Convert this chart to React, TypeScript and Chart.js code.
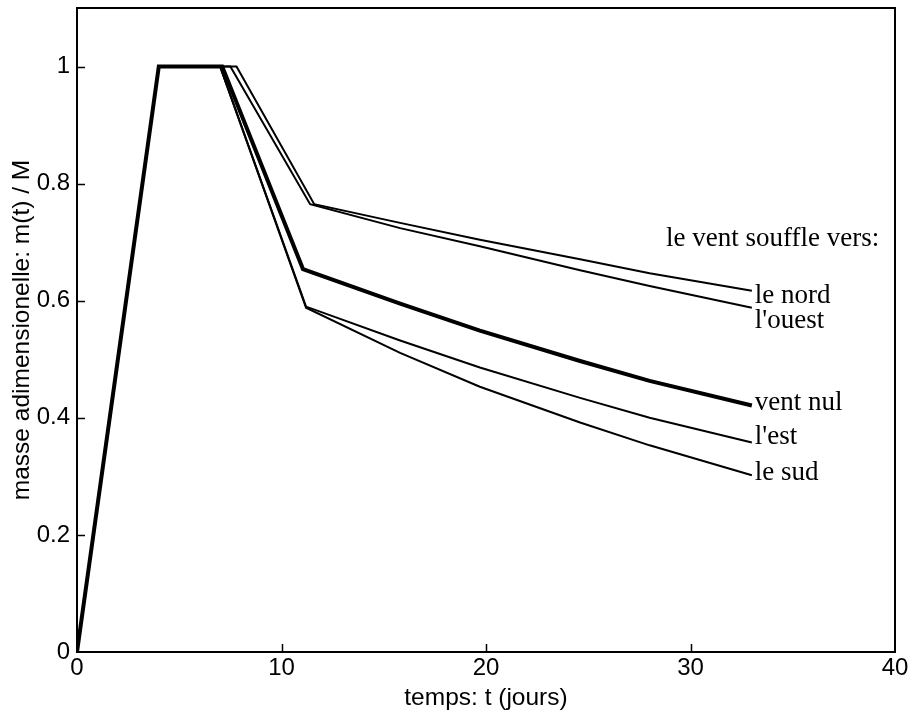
import { useEffect, useRef } from "react";
import { Chart, registerables } from "chart.js";

Chart.register(...registerables);

// ---- data ----
const SERIES_NAMES = ["le nord", "l'ouest", "vent nul", "l'est", "le sud"];
const NORD_T = [0, 4, 7.8, 11.6, 15.8, 19.7, 24.6, 28, 33];
const NORD_M = [0, 1, 1, 0.765, 0.733, 0.704, 0.671, 0.647, 0.617];
const OUEST_T = [0, 4, 7.5, 11.4, 15.8, 19.7, 24.6, 28, 33];
const OUEST_M = [0, 1, 1, 0.765, 0.724, 0.693, 0.652, 0.625, 0.588];
const NUL_T = [0, 4, 7.1, 11.05, 15.8, 19.7, 24.6, 28, 33];
const NUL_M = [0, 1, 1, 0.654, 0.595, 0.549, 0.497, 0.463, 0.421];
const EST_T = [0, 4, 7.0, 11.2, 15.8, 19.7, 24.6, 28, 33];
const EST_M = [0, 1, 1, 0.59, 0.532, 0.486, 0.434, 0.4, 0.358];
const SUD_T = [0, 4, 7.0, 11.2, 15.8, 19.7, 24.6, 28, 33];
const SUD_M = [0, 1, 1, 0.588, 0.511, 0.453, 0.392, 0.353, 0.302];
const X_TICKS = [0, 10, 20, 30, 40];
const Y_TICKS = [0, 0.2, 0.4, 0.6, 0.8, 1];
const HEADER = "le vent souffle vers:";

const SANS = "'Liberation Sans', Arial, sans-serif";
const SERIF = "'Liberation Serif', 'Times New Roman', serif";

const zip = (t: number[], m: number[]) => t.map((x, i) => ({ x, y: m[i] }));

export default function App() {
  const ref = useRef<HTMLCanvasElement | null>(null);

  useEffect(() => {
    document.body.style.margin = "0";
    const canvas = ref.current;
    if (!canvas) return;

    const labelDy = [12, 20, 4, 2, 5];

    const decor = {
      id: "decor",
      afterDraw(chart: any) {
        const { ctx, chartArea: a, scales } = chart;
        const xs = scales.x;
        const ys = scales.y;
        ctx.save();
        ctx.strokeStyle = "#000";
        ctx.lineWidth = 2;
        ctx.strokeRect(a.left, a.top, a.right - a.left, a.bottom - a.top);
        ctx.lineWidth = 1.5;
        ctx.beginPath();
        X_TICKS.slice(1, -1).forEach((v) => {
          const px = Math.round(xs.getPixelForValue(v)) + 0.5;
          ctx.moveTo(px, a.bottom);
          ctx.lineTo(px, a.bottom - 8);
        });
        Y_TICKS.slice(1).forEach((v) => {
          const py = Math.round(ys.getPixelForValue(v)) + 0.5;
          ctx.moveTo(a.left, py);
          ctx.lineTo(a.left + 8, py);
        });
        ctx.stroke();

        // series labels
        ctx.fillStyle = "#000";
        ctx.font = `27px ${SERIF}`;
        ctx.textAlign = "left";
        ctx.textBaseline = "alphabetic";
        chart.data.datasets.forEach((ds: any, i: number) => {
          const meta = chart.getDatasetMeta(i);
          const last = meta.data[meta.data.length - 1];
          ctx.fillText(SERIES_NAMES[i], last.x + 3, last.y + labelDy[i]);
        });
        ctx.fillText(HEADER, xs.getPixelForValue(28.8), ys.getPixelForValue(0.693));
        ctx.restore();
      },
    };

    const mk = (i: number, t: number[], m: number[], w: number) => ({
      label: SERIES_NAMES[i],
      data: zip(t, m),
      borderColor: "#000",
      borderWidth: w,
      pointRadius: 0,
      tension: 0,
      fill: false,
    });

    const chart = new Chart(canvas, {
      type: "line",
      data: {
        datasets: [
          mk(0, NORD_T, NORD_M, 2),
          mk(1, OUEST_T, OUEST_M, 2),
          mk(2, NUL_T, NUL_M, 4),
          mk(3, EST_T, EST_M, 2),
          mk(4, SUD_T, SUD_M, 2),
        ],
      },
      options: {
        animation: false,
        responsive: false,
        maintainAspectRatio: false,
        layout: { padding: { top: 8, right: 23, left: 0, bottom: 0 } },
        plugins: { legend: { display: false }, tooltip: { enabled: false } },
        scales: {
          x: {
            type: "linear",
            min: 0,
            max: 40,
            afterBuildTicks: (s: any) => {
              s.ticks = X_TICKS.map((v) => ({ value: v }));
            },
            afterFit: (s: any) => {
              s.height = 61;
              s.paddingLeft = 0;
              s.paddingRight = 0;
            },
            grid: { display: false, drawTicks: false },
            border: { display: false },
            ticks: {
              color: "#000",
              font: { family: SANS, size: 24 },
              padding: 2,
              maxRotation: 0,
              callback: (v: any) => String(v),
            },
            title: {
              display: true,
              text: "temps: t (jours)",
              color: "#000",
              font: { family: SANS, size: 24.5 },
              padding: { top: -6, bottom: 0 },
            },
          },
          y: {
            type: "linear",
            min: 0,
            max: 1.1,
            afterBuildTicks: (s: any) => {
              s.ticks = Y_TICKS.map((v) => ({ value: v }));
            },
            afterFit: (s: any) => {
              s.width = 77;
              s.paddingTop = 0;
              s.paddingBottom = 0;
            },
            grid: { display: false, drawTicks: false },
            border: { display: false },
            ticks: {
              color: "#000",
              font: { family: SANS, size: 24 },
              padding: 7,
              callback: (v: any) => String(Math.round(v * 10) / 10),
            },
            title: {
              display: true,
              text: "masse adimensionelle: m(t) / M",
              color: "#000",
              font: { family: SANS, size: 24.5 },
              padding: { top: 8, bottom: 0 },
            },
          },
        },
      },
      plugins: [decor],
    } as any);

    return () => chart.destroy();
  }, []);

  return <canvas ref={ref} width={918} height={713} style={{ display: "block" }} />;
}
